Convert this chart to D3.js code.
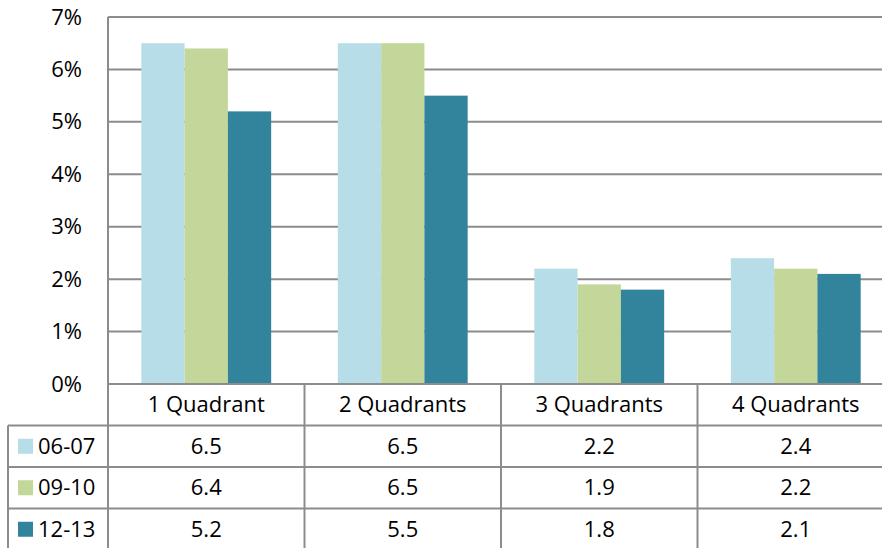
<!DOCTYPE html>
<html><head><meta charset="utf-8">
<script src="https://cdn.jsdelivr.net/npm/d3@7"></script>
<style>body{margin:0;background:#fff;overflow:hidden}svg{display:block}</style>
</head><body>
<script>
const categories = ["1 Quadrant", "2 Quadrants", "3 Quadrants", "4 Quadrants"];
const seriesNames = ["06-07", "09-10", "12-13"];
const s0607 = [6.5, 6.5, 2.2, 2.4];
const s0910 = [6.4, 6.5, 1.9, 2.2];
const s1213 = [5.2, 5.5, 1.8, 2.1];
const colors = ["#b7dde8", "#c4d79b", "#31849b"];
const yTicks = [0, 1, 2, 3, 4, 5, 6, 7];

(function () {
const series = [s0607, s0910, s1213];
const W = 882, H = 548;
const mLeft = 108, mRight = 894, mTop = 17, mBottom = 384;
const rowH = 41.5, tableLeft = 8;
const font = "'Open Sans', Lato, sans-serif";
const fs = 22;

const svg = d3.select("body").append("svg").attr("width", W).attr("height", H);

const x = d3.scaleBand().domain(categories).range([mLeft, mRight]).paddingInner(0).paddingOuter(0);
const x1 = d3.scaleBand().domain(seriesNames).range([0, x.bandwidth()]).paddingOuter(0.77).paddingInner(0);
const y = d3.scaleLinear().domain([0, 7]).range([mBottom, mTop]);

svg.append("g").selectAll("line").data(yTicks.filter(d => d > 0)).join("line")
  .attr("x1", mLeft).attr("x2", mRight).attr("y1", d => y(d)).attr("y2", d => y(d))
  .attr("stroke", "#8c8c8c").attr("stroke-width", 2);

const yAxis = d3.axisLeft(y).tickValues(yTicks).tickFormat(d => d + "%").tickSize(0).tickPadding(0);
const ya = svg.append("g").attr("transform", `translate(${mLeft - 26},0)`).call(yAxis);
ya.select(".domain").remove();
ya.selectAll("text").attr("font-family", font).attr("font-size", fs).attr("fill", "#000");

const g = svg.append("g");
categories.forEach((c, ci) => {
  seriesNames.forEach((s, si) => {
    const v = series[si][ci];
    g.append("rect")
      .attr("x", x(c) + x1(s)).attr("width", x1.bandwidth())
      .attr("y", y(v)).attr("height", y(0) - y(v))
      .attr("fill", colors[si]);
  });
});

const lines = svg.append("g").attr("stroke", "#8c8c8c").attr("stroke-width", 2);
lines.append("line").attr("x1", mLeft).attr("x2", mLeft).attr("y1", mTop).attr("y2", H);
lines.append("line").attr("x1", mLeft).attr("x2", mRight).attr("y1", mBottom).attr("y2", mBottom);
for (let r = 1; r <= 3; r++) {
  lines.append("line").attr("x1", tableLeft).attr("x2", mRight)
    .attr("y1", mBottom + rowH * r).attr("y2", mBottom + rowH * r);
}
lines.append("line").attr("x1", tableLeft).attr("x2", tableLeft).attr("y1", mBottom + rowH).attr("y2", H);
categories.forEach((c, i) => {
  if (i > 0) lines.append("line").attr("x1", x(c)).attr("x2", x(c)).attr("y1", mBottom).attr("y2", H);
});

svg.append("g").selectAll("text").data(categories).join("text")
  .attr("x", d => x(d) + x.bandwidth() / 2).attr("y", mBottom + rowH / 2)
  .attr("dy", "0.35em").attr("text-anchor", "middle")
  .attr("font-family", font).attr("font-size", fs).text(d => d);

seriesNames.forEach((s, si) => {
  const cy = mBottom + rowH * (si + 1) + rowH / 2;
  svg.append("rect").attr("x", 18).attr("y", cy - 7.5).attr("width", 15).attr("height", 15).attr("fill", colors[si]);
  svg.append("text").attr("x", 38).attr("y", cy).attr("dy", "0.35em")
    .attr("font-family", font).attr("font-size", fs).text(s);
  categories.forEach((c, ci) => {
    svg.append("text").attr("x", x(c) + x.bandwidth() / 2).attr("y", cy).attr("dy", "0.35em")
      .attr("text-anchor", "middle").attr("font-family", font).attr("font-size", fs)
      .text(series[si][ci].toFixed(1));
  });
});
})();
</script>
</body></html>
